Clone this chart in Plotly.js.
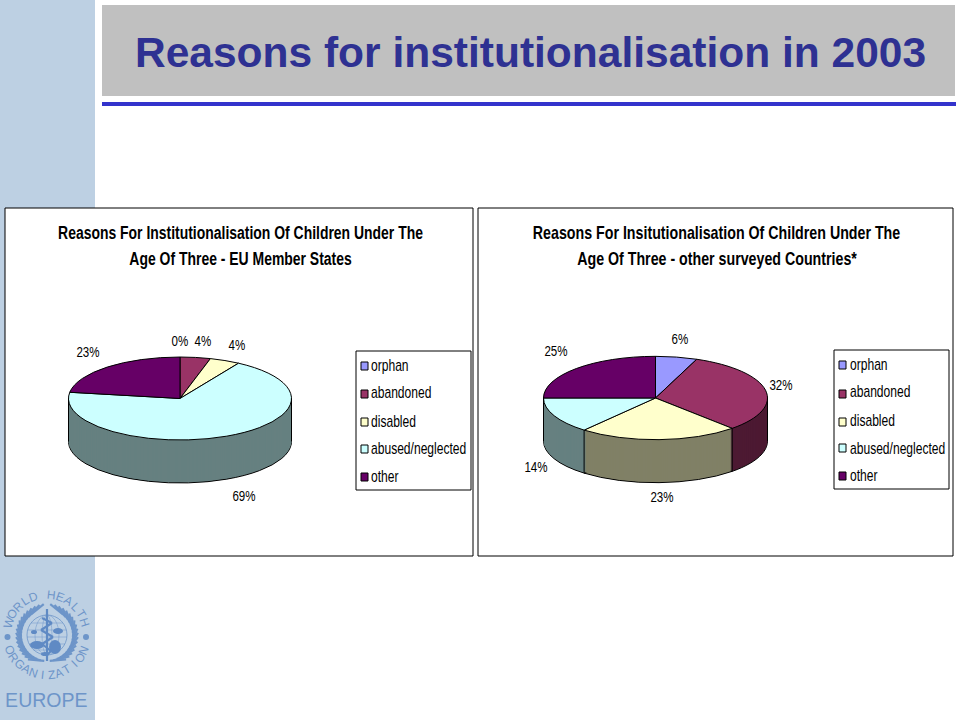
<!DOCTYPE html>
<html><head><meta charset="utf-8">
<script src="https://cdn.plot.ly/plotly-3.0.0.min.js"></script>
<style>html,body{margin:0;padding:0;background:#fff}#c{width:960px;height:720px}</style>
</head><body><div id="c"></div>
<script>
// ---- data ----
const categories = ['orphan','abandoned','disabled','abused/neglected','other'];
const euValues = [0,4.4,4.4,68.6,22.6];
const otherValues = [6,32,23,14,25];
const topColors = ['#9999ff','#993366','#ffffcc','#ccffff','#660066'];
const sideColors = ['#4d4d80','#4d1a33','#808066','#668080','#330033'];
const pageTitle = 'Reasons for institutionalisation in 2003';
const euTitle = ['Reasons For Institutionalisation Of Children Under The','Age Of Three - EU Member States'];
const otherTitle = ['Reasons For Insitutionalisation Of Children Under The','Age Of Three - other surveyed Countries*'];

// ---- layout constants (pixels of the 960x720 page) ----
const W=960,H=720, SANS='"Liberation Sans",Arial,sans-serif';
const px=x=>x/W, py=y=>1-y/H;
const SQUASH=0.372, ANCHOR=398, DEPTH=43;
const charts=[
 {values:euValues,title:euTitle,titleK:0.775,cx:180,cy:398.5,rx:111.5,frame:[5,208,473,556],titleX:240,
  legend:{box:[356,351,471,490],sx:361,tx:371,ys:[366,394,422,449,477],ty:[365,393,421,448,476]},
  labels:[null,[203,340],[237,344],[244,495],[88,351]],zero:[180,340]},
 {values:otherValues,title:otherTitle,titleK:0.79,cx:655.5,cy:398,rx:112,frame:[478,208,953,556],titleX:716.5,
  legend:{box:[834,350,949,489],sx:839,tx:850,ys:[365,394,422,448,476],ty:[364,392,420,448,475]},
  labels:[[680,338],[781,384],[662,496],[536,466],[556,350]]}
];
const LOGO='#6d95c9', LOGO_DARK='#5f8ac4';
const shapes=[], annotations=[], data=[], squeeze=[];
const rect=(x0,y0,x1,y1,fill,line,lw,layer)=>shapes.push({type:'rect',xref:'paper',yref:'paper',x0:px(x0),x1:px(x1),y0:py(y0),y1:py(y1),fillcolor:fill,line:{color:line||fill,width:line?(lw||1):0},layer:layer||'below'});
const seg=(x0,y0,x1,y1,c,w,layer)=>shapes.push({type:'line',xref:'paper',yref:'paper',x0:px(x0),x1:px(x1),y0:py(y0),y1:py(y1),line:{color:c,width:w},layer:layer||'below'});
const circ=(cx,cy,rx,ry,fill,line,lw)=>shapes.push({type:'circle',xref:'paper',yref:'paper',x0:px(cx-rx),x1:px(cx+rx),y0:py(cy-ry),y1:py(cy+ry),fillcolor:fill||'rgba(0,0,0,0)',line:{color:line||'rgba(0,0,0,0)',width:line?lw:0},layer:'below'});
const text=(x,y,t,size,k,opt={})=>{squeeze.push(k);annotations.push(Object.assign({xref:'paper',yref:'paper',x:px(x),y:py(y),text:t,showarrow:false,xanchor:'center',yanchor:'middle',font:{family:SANS,size:size,color:'#000'},borderpad:0,borderwidth:0},opt));};

// page furniture
rect(0,0,95,720,'#bdd0e3');
rect(102,5,955,96,'#c0c0c0');
rect(102,102,956,106,'#3333cc');
text(530,53,pageTitle,42.5,1,{font:{family:SANS,size:42.5,color:'#2e3192',weight:700}});

// charts
charts.forEach(c=>{
  const [x0,y0,x1,y1]=c.frame;
  rect(x0,y0,x1,y1,'#ffffff','#000000',1);
  c.title.forEach((t,i)=>text(c.titleX,233+i*26,t,18,c.titleK,{font:{family:SANS,size:18,color:'#000',weight:700}}));
  const yu=y=>ANCHOR+(y-ANCHOR)/SQUASH;
  const pie=(offset,colors,lw)=>{
    const centre=yu(c.cy+offset);
    data.push({type:'pie',values:c.values,labels:categories,sort:false,direction:'clockwise',rotation:0,
      textinfo:'none',showlegend:false,hoverinfo:'label+percent',
      marker:{colors:colors,line:{color:'#000000',width:lw}},
      domain:{x:[(c.cx-c.rx)/W,(c.cx+c.rx)/W],y:[1-(centre+c.rx)/H,1-(centre-c.rx)/H]}});
  };
  for(let o=DEPTH;o>=1;o--) pie(o,sideColors,o===DEPTH?1:0);
  pie(0,topColors,1);
  // vertical edges of the side wall, placed from the cumulative values
  const ry=c.rx*SQUASH, total=c.values.reduce((a,b)=>a+b,0);
  const wall=(x,y)=>seg(x,y,x,y+DEPTH,'#000',1,'above');
  wall(c.cx-c.rx,c.cy); wall(c.cx+c.rx,c.cy);
  let cum=0;
  c.values.forEach(v=>{cum+=v;const a=2*Math.PI*cum/total;
    if(v>0&&Math.cos(a)<0) wall(c.cx+c.rx*Math.sin(a),c.cy-ry*Math.cos(a));});
  // value labels
  c.values.forEach((v,i)=>{ if(c.labels[i]) text(c.labels[i][0],c.labels[i][1],Math.round(v)+'%',15,0.77); });
  if(c.zero) text(c.zero[0],c.zero[1],c.values[0]+'%',15,0.77);
  // legend
  const L=c.legend;
  rect(L.box[0],L.box[1],L.box[2],L.box[3],'#ffffff','#000000',1);
  categories.forEach((n,i)=>{
    rect(L.sx,L.ys[i]-4,L.sx+7,L.ys[i]+4,topColors[i],'#000000',1);
    text(L.tx,L.ty[i],n,16,0.755,{xanchor:'left',align:'left'});
  });
});

// WHO Europe emblem
const LX=46.7,LY=635,TR=40;
const arc=(chars,start,end,flip)=>{[...chars].forEach((ch,i)=>{
  if(ch===' ')return;
  const d=start+(end-start)*i/(chars.length-1), a=d*Math.PI/180;
  text(LX+TR*Math.sin(a),LY-TR*Math.cos(a),ch,12,1,{textangle:flip?d-180:d,font:{family:SANS,size:12,color:LOGO}});
});};
arc('WORLD HEALTH',-72,72,false);
arc('ORGANIZATION',248,112,true);
circ(7.5,637,3,3,LOGO);circ(86,637,3,3,LOGO);
// globe
circ(47,635,20,20,null,LOGO,0.8);circ(47,635,12,20,null,LOGO,0.5);circ(47,635,5,20,null,LOGO,0.5);
[-12,-5,2,9,15].forEach(d=>{const hw=Math.sqrt(400-d*d);seg(47-hw,635+d,47+hw,635+d,LOGO,0.5);});
[[37,645,7,4],[55,647,6,7],[58,631,5,3],[34,632,3,2],[45,654,4,2]].forEach(b=>circ(b[0],b[1],b[2],b[3],LOGO_DARK));
// wreath leaves
[-1,1].forEach(s=>{for(let d=38;d<=174;d+=8){const a=d*Math.PI/180,
    r0=26,r1=31,x=47+s*r0*Math.sin(a),y=635-r0*Math.cos(a),
    b=(d-32)*Math.PI/180;
  seg(x,y,47+s*r1*Math.sin(b),635-r1*Math.cos(b),LOGO,2.2);}});
// staff and serpent
seg(47,609,47,661,LOGO_DARK,2.2);
[[42,618,52,623],[52,623,41,630],[41,630,53,637],[53,637,42,644],[42,644,51,651],[51,651,46,656]].forEach(p=>seg(p[0],p[1],p[2],p[3],LOGO_DARK,2.2));
text(46,699,'EUROPE',21,0.93,{font:{family:SANS,size:21,color:LOGO}});

Plotly.newPlot('c',data,{width:W,height:H,margin:{l:0,r:0,t:0,b:0,pad:0},paper_bgcolor:'#ffffff',plot_bgcolor:'rgba(0,0,0,0)',
  showlegend:false,shapes:shapes,annotations:annotations},{displayModeBar:false,staticPlot:true}).then(gd=>{
  const pl=gd.querySelector('.pielayer');
  pl.setAttribute('transform',`translate(0,${ANCHOR}) scale(1,${SQUASH}) translate(0,${-ANCHOR})`);
  pl.querySelectorAll('path').forEach(p=>p.style.vectorEffect='non-scaling-stroke');
  // condense the chart lettering (the reference uses a narrow face)
  gd.querySelectorAll('.annotation').forEach(g=>{
    const k=squeeze[+g.getAttribute('data-index')];
    const t=g.querySelector('text');
    if(t&&k!==1){
      const x=parseFloat(t.getAttribute('x'))||0, old=t.getAttribute('transform')||'';
      t.setAttribute('transform',`translate(${x},0) scale(${k},1) translate(${-x},0) ${old}`);
    }
  });
});
</script></body></html>
